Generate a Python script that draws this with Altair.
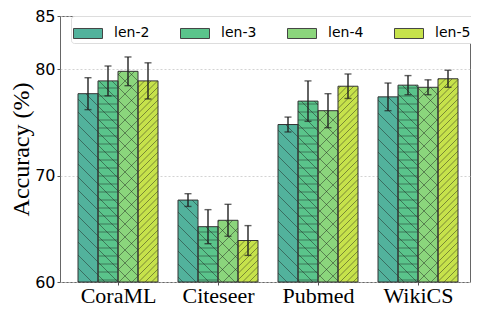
import altair as alt
import pandas as pd
import numpy as np

categories = ["CoraML", "Citeseer", "Pubmed", "WikiCS"]
series = ["len-2", "len-3", "len-4", "len-5"]
colors = ["#52b29c", "#5ac48b", "#8bd57c", "#c6e24b"]

mean_len2 = [77.7, 67.7, 74.8, 77.4]
mean_len3 = [78.9, 65.2, 77.0, 78.5]
mean_len4 = [79.8, 65.8, 76.1, 78.3]
mean_len5 = [78.9, 63.9, 78.4, 79.1]
err_len2 = [1.5, 0.6, 0.7, 1.3]
err_len3 = [1.4, 1.6, 1.9, 0.9]
err_len4 = [1.35, 1.5, 1.6, 0.7]
err_len5 = [1.7, 1.4, 1.15, 0.8]

y_ticks = [60, 70, 80, 85]

means = [mean_len2, mean_len3, mean_len4, mean_len5]
errs = [err_len2, err_len3, err_len4, err_len5]

# geometry
W, H = 410, 266
XMIN, XMAX = -0.58, 3.52
YMIN, YMAX = 60, 85
BW = 0.2
PX = W / (XMAX - XMIN)
PY = H / (YMAX - YMIN)

rows = []
for si, s in enumerate(series):
    for gi, c in enumerate(categories):
        cx = gi + (si - 1.5) * BW
        rows.append(dict(series=s, cat=c, xc=cx, xl=cx - BW / 2, xr=cx + BW / 2,
                         v=means[si][gi], lo=means[si][gi] - errs[si][gi],
                         hi=means[si][gi] + errs[si][gi]))
df = pd.DataFrame(rows)

# hatch patterns per series: (kind, spacing px)
patterns = {
    "len-2": [("bs", 13.0)],
    "len-3": [("h", 8.0), ("bs", 13.0)],
    "len-4": [("bs", 13.0), ("fs", 13.0)],
    "len-5": [("fs", 6.5)],
}

def to_data(px, py):
    return XMIN + px / PX, YMAX - py / PY

hrows = []
for r in rows:
    L = (r["xl"] - XMIN) * PX
    R = (r["xr"] - XMIN) * PX
    T = (YMAX - r["v"]) * PY
    B = H
    for kind, s in patterns[r["series"]]:
        segs = []
        if kind == "h":
            k = np.ceil(T / s)
            while k * s < B:
                yy = k * s
                segs.append((L, yy, R, yy))
                k += 1
        elif kind == "bs":
            c = np.floor((T - R) / s) * s
            while c <= B - L:
                xa = max(L, T - c)
                xb = min(R, B - c)
                if xb - xa > 0.3:
                    segs.append((xa, xa + c, xb, xb + c))
                c += s
        elif kind == "fs":
            c = np.floor((T + L) / s) * s
            while c <= B + R:
                xa = max(L, c - B)
                xb = min(R, c - T)
                if xb - xa > 0.3:
                    segs.append((xa, c - xa, xb, c - xb))
                c += s
        for (x1, y1, x2, y2) in segs:
            dx1, dy1 = to_data(x1, y1)
            dx2, dy2 = to_data(x2, y2)
            hrows.append(dict(x1=dx1, y1=dy1, x2=dx2, y2=dy2))
hdf = pd.DataFrame(hrows)

xscale = alt.Scale(domain=[XMIN, XMAX], nice=False, zero=False)
yscale = alt.Scale(domain=[YMIN, YMAX], nice=False, zero=False)

label_expr = "[" + ",".join("'%s'" % c for c in categories) + "][datum.value]"

xaxis = alt.Axis(values=[0, 1, 2, 3], labelExpr=label_expr, title=None,
                 labelFont="Liberation Serif", labelFontSize=22, labelColor="black",
                 grid=False, domain=False, tickColor="#555", tickSize=3, labelPadding=0)
yaxis = alt.Axis(values=y_ticks, title="Accuracy (%)", titleFont="Liberation Serif",
                 titleFontSize=24, titleFontWeight="normal", titleColor="black",
                 titlePadding=1, labelFont="DejaVu Sans", labelFontSize=16,
                 labelColor="black", grid=True, gridColor="#c8c8c8", gridDash=[2, 2],
                 gridWidth=0.8, domain=False, tickColor="#555", tickSize=3, labelPadding=2)

base = alt.Chart(df)

bars = base.mark_bar(strokeWidth=0, opacity=1).encode(
    x=alt.X("xl:Q", scale=xscale, axis=xaxis),
    x2="xr:Q",
    y=alt.Y("v:Q", scale=yscale, axis=yaxis),
    y2=alt.datum(60),
    color=alt.Color("series:N", scale=alt.Scale(domain=series, range=colors),
                    legend=alt.Legend(title=None, orient="none", legendX=11, legendY=0,
                                      offset=0, direction="horizontal", columns=4,
                                      columnPadding=28,
                                      symbolType="M-1,-0.345H1V0.345H-1Z", symbolSize=841,
                                      symbolStrokeColor="#444", symbolStrokeWidth=1,
                                      symbolOpacity=1, labelFont="DejaVu Sans",
                                      labelFontSize=14, labelColor="black", labelOffset=11,
                                      padding=2, strokeColor="#dddddd", cornerRadius=3,
                                      fillColor="white")),
)

hatch = alt.Chart(hdf).mark_rule(color="#1a1a1a", opacity=0.5, strokeWidth=0.9).encode(
    x=alt.X("x1:Q", scale=xscale), y=alt.Y("y1:Q", scale=yscale),
    x2="x2:Q", y2="y2:Q",
)

outline = base.mark_rect(fillOpacity=0, stroke="#333", strokeWidth=1).encode(
    x=alt.X("xl:Q", scale=xscale), x2="xr:Q",
    y=alt.Y("v:Q", scale=yscale), y2=alt.datum(60),
)

ebar = base.mark_rule(color="#222", strokeWidth=1.4).encode(
    x=alt.X("xc:Q", scale=xscale), y=alt.Y("lo:Q", scale=yscale), y2="hi:Q",
)
cap_hi = base.mark_tick(color="#222", orient="horizontal", size=7, thickness=1.4).encode(
    x=alt.X("xc:Q", scale=xscale), y=alt.Y("hi:Q", scale=yscale),
)
cap_lo = base.mark_tick(color="#222", orient="horizontal", size=7, thickness=1.4).encode(
    x=alt.X("xc:Q", scale=xscale), y=alt.Y("lo:Q", scale=yscale),
)

chart = alt.layer(bars, hatch, outline, ebar, cap_hi, cap_lo).properties(
    width=W, height=H,
    autosize=alt.AutoSizeParams(type="none"),
    padding={"left": 52, "top": 8, "right": 1, "bottom": 26},
).configure_view(stroke="#666", strokeWidth=1)

chart.save("out.html", embed_options={"renderer": "svg", "actions": False})
